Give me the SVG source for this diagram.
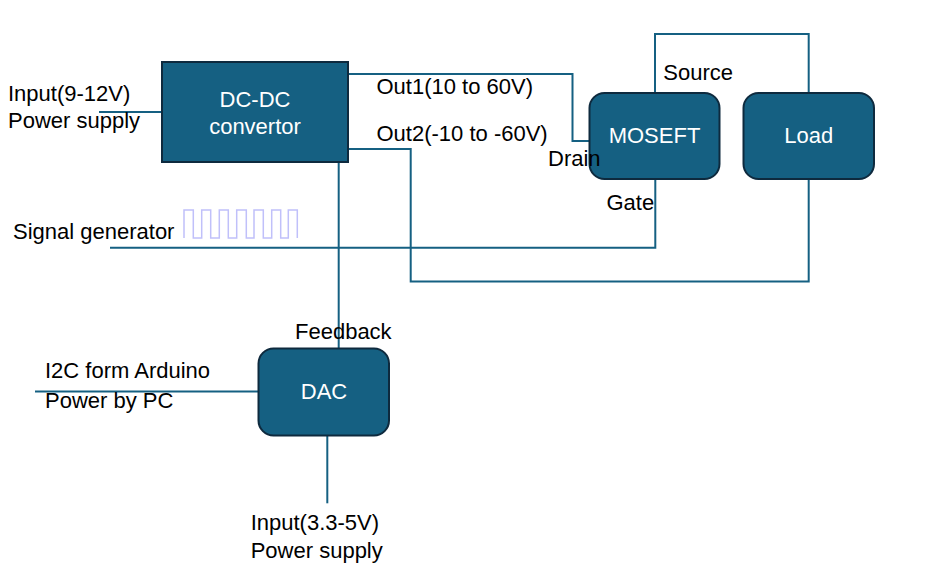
<svg xmlns="http://www.w3.org/2000/svg" width="941" height="569" viewBox="0 0 941 569">
<style>
.box{fill:#156082;stroke:#0e2a3e;stroke-width:2}
.wire{fill:none;stroke:#156082;stroke-width:2}
.lbl{font-family:"Liberation Sans",Arial,sans-serif;font-size:22px;fill:#000}
.btx{font-family:"Liberation Sans",Arial,sans-serif;font-size:22px;fill:#fff;text-anchor:middle}
.wave{fill:none;stroke:#c0c0fa;stroke-width:1.5}
</style>
<rect width="941" height="569" fill="#fff"/>
<g id="connectors">
<path class="wire" d="M99,112 H162"/>
<path class="wire" d="M348,74 H572.5 V141 H589.5"/>
<path class="wire" d="M348,149 H410.7 V281.5 H808.7 V179.5"/>
<path class="wire" d="M655,93 V34 H808.7 V93"/>
<path class="wire" d="M110,247.7 H655.3 V179.5"/>
<path class="wire" d="M338.7,162.5 V348.5"/>
<path class="wire" d="M35,391.5 H258.5"/>
<path class="wire" d="M327.3,435.5 V503.3"/>
</g>
<g id="dcdc">
<rect class="box" x="162" y="62" width="186" height="100"/>
<text class="btx" x="255" y="106.5">DC-DC</text>
<text class="btx" x="255" y="134">convertor</text>
</g>
<g id="mosfet">
<rect class="box" x="589.5" y="93" width="130" height="86" rx="15"/>
<text class="btx" x="654.5" y="143">MOSEFT</text>
</g>
<g id="load">
<rect class="box" x="743.5" y="93" width="130.5" height="86" rx="15"/>
<text class="btx" x="808.7" y="143">Load</text>
</g>
<g id="dac">
<rect class="box" x="258.5" y="348.5" width="130.5" height="87" rx="15"/>
<text class="btx" x="324" y="399.3">DAC</text>
</g>
<g id="signal-wave">
<path class="wave" d="M184,238 V210 H193.3 V238 H201.7 V210 H210.7 V238 H219.3 V210 H228.3 V238 H236.7 V210 H246.3 V238 H254 V210 H263.3 V238 H271.7 V210 H280.7 V238 H288.3 V210 H297.3 V238"/>
</g>
<g id="labels">
<text class="lbl" x="8" y="100.7">Input(9-12V)</text>
<text class="lbl" x="8" y="128">Power supply</text>
<text class="lbl" x="376.5" y="94">Out1(10 to 60V)</text>
<text class="lbl" x="376.5" y="141">Out2(-10 to -60V)</text>
<text class="lbl" x="548" y="166">Drain</text>
<text class="lbl" x="663.3" y="80.3">Source</text>
<text class="lbl" x="606.5" y="210">Gate</text>
<text class="lbl" x="13" y="239">Signal generator</text>
<text class="lbl" x="295" y="339.3">Feedback</text>
<text class="lbl" x="45" y="378.3">I2C form Arduino</text>
<text class="lbl" x="45" y="407.7">Power by PC</text>
<text class="lbl" x="250.7" y="530">Input(3.3-5V)</text>
<text class="lbl" x="250.7" y="558.3">Power supply</text>
</g>
</svg>
